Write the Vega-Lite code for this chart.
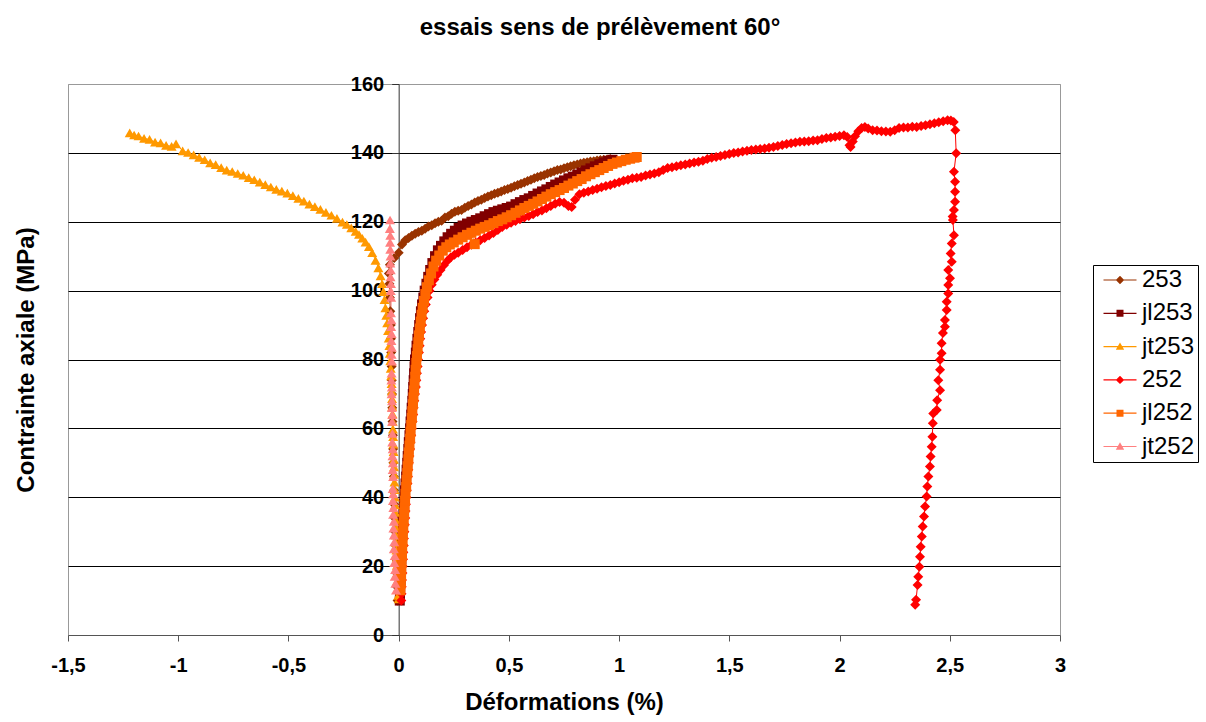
{
  "$schema": "https://vega.github.io/schema/vega-lite/v6.json",
  "width": 992,
  "height": 551,
  "autosize": "none",
  "padding": {"left": 68, "top": 84, "right": 146, "bottom": 87},
  "background": "white",
  "title": {"text": "essais sens de prélèvement 60°", "font": "Liberation Sans", "fontSize": 24, "fontWeight": "bold", "color": "black", "anchor": "middle", "frame": "group", "dx": 36, "baseline": "alphabetic", "offset": 15},
  "data": {"values": [
    {"s":"253","x":-0.005,"y":10},{"s":"253","x":-0.008,"y":14},{"s":"253","x":-0.01,"y":18},{"s":"253","x":-0.012,"y":22},{"s":"253","x":-0.014,"y":26},{"s":"253","x":-0.016,"y":30},{"s":"253","x":-0.018,"y":34},{"s":"253","x":-0.02,"y":38},{"s":"253","x":-0.021,"y":42},{"s":"253","x":-0.022,"y":46},{"s":"253","x":-0.024,"y":50},{"s":"253","x":-0.025,"y":54},{"s":"253","x":-0.026,"y":58},{"s":"253","x":-0.028,"y":62},{"s":"253","x":-0.029,"y":66},{"s":"253","x":-0.03,"y":70},{"s":"253","x":-0.031,"y":74},{"s":"253","x":-0.032,"y":78},{"s":"253","x":-0.034,"y":82},{"s":"253","x":-0.035,"y":86},{"s":"253","x":-0.036,"y":90},{"s":"253","x":-0.038,"y":94},{"s":"253","x":-0.04,"y":98},{"s":"253","x":-0.042,"y":102},{"s":"253","x":-0.044,"y":105},{"s":"253","x":-0.04,"y":107.5},{"s":"253","x":-0.02,"y":109.5},
    {"s":"253","x":0.0,"y":111.0},{"s":"253","x":0.015,"y":113.4},{"s":"253","x":0.03,"y":114.6},{"s":"253","x":0.045,"y":115.3},{"s":"253","x":0.06,"y":115.9},{"s":"253","x":0.075,"y":116.5},{"s":"253","x":0.09,"y":117.0},{"s":"253","x":0.105,"y":117.4},{"s":"253","x":0.12,"y":118.0},{"s":"253","x":0.135,"y":118.6},{"s":"253","x":0.15,"y":119.0},{"s":"253","x":0.165,"y":119.6},{"s":"253","x":0.18,"y":120.0},{"s":"253","x":0.195,"y":120.3},{"s":"253","x":0.21,"y":121.2},{"s":"253","x":0.225,"y":121.6},{"s":"253","x":0.24,"y":122.3},{"s":"253","x":0.255,"y":122.9},{"s":"253","x":0.27,"y":123.2},{"s":"253","x":0.285,"y":123.4},{"s":"253","x":0.3,"y":124.1},{"s":"253","x":0.315,"y":124.6},{"s":"253","x":0.33,"y":125.0},{"s":"253","x":0.345,"y":125.6},{"s":"253","x":0.36,"y":126.0},{"s":"253","x":0.375,"y":126.4},{"s":"253","x":0.39,"y":126.9},{"s":"253","x":0.405,"y":127.3},{"s":"253","x":0.42,"y":127.7},{"s":"253","x":0.435,"y":128.1},{"s":"253","x":0.45,"y":128.4},{"s":"253","x":0.465,"y":128.8},{"s":"253","x":0.48,"y":129.2},{"s":"253","x":0.495,"y":129.5},{"s":"253","x":0.51,"y":129.9},{"s":"253","x":0.525,"y":130.3},{"s":"253","x":0.54,"y":130.7},{"s":"253","x":0.555,"y":131.0},{"s":"253","x":0.57,"y":131.4},{"s":"253","x":0.585,"y":131.8},{"s":"253","x":0.6,"y":132.2},{"s":"253","x":0.615,"y":132.6},{"s":"253","x":0.63,"y":133.0},{"s":"253","x":0.645,"y":133.3},{"s":"253","x":0.66,"y":133.6},{"s":"253","x":0.675,"y":134.0},{"s":"253","x":0.69,"y":134.3},{"s":"253","x":0.705,"y":134.7},{"s":"253","x":0.72,"y":135.0},{"s":"253","x":0.735,"y":135.2},{"s":"253","x":0.75,"y":135.5},{"s":"253","x":0.765,"y":135.8},{"s":"253","x":0.78,"y":136.1},{"s":"253","x":0.795,"y":136.4},{"s":"253","x":0.81,"y":136.6},{"s":"253","x":0.825,"y":136.9},{"s":"253","x":0.84,"y":137.1},{"s":"253","x":0.855,"y":137.3},{"s":"253","x":0.87,"y":137.5},{"s":"253","x":0.885,"y":137.6},{"s":"253","x":0.9,"y":137.8},{"s":"253","x":0.915,"y":137.9},{"s":"253","x":0.93,"y":138.0},{"s":"253","x":0.945,"y":138.1},{"s":"253","x":0.96,"y":138.2},

    {"s":"jl253","x":0.005,"y":10},{"s":"jl253","x":0.006,"y":12},{"s":"jl253","x":0.007,"y":14},{"s":"jl253","x":0.009,"y":16},{"s":"jl253","x":0.01,"y":18},{"s":"jl253","x":0.011,"y":20},{"s":"jl253","x":0.012,"y":22},{"s":"jl253","x":0.013,"y":24},{"s":"jl253","x":0.014,"y":26},{"s":"jl253","x":0.015,"y":28},{"s":"jl253","x":0.017,"y":30},{"s":"jl253","x":0.018,"y":32},{"s":"jl253","x":0.02,"y":34},{"s":"jl253","x":0.022,"y":36},{"s":"jl253","x":0.025,"y":38},{"s":"jl253","x":0.027,"y":40},{"s":"jl253","x":0.029,"y":42},{"s":"jl253","x":0.031,"y":44},{"s":"jl253","x":0.034,"y":46},{"s":"jl253","x":0.036,"y":48},{"s":"jl253","x":0.039,"y":50},{"s":"jl253","x":0.041,"y":52},{"s":"jl253","x":0.044,"y":54},{"s":"jl253","x":0.046,"y":56},{"s":"jl253","x":0.049,"y":58},{"s":"jl253","x":0.052,"y":60},{"s":"jl253","x":0.054,"y":62},{"s":"jl253","x":0.057,"y":64},{"s":"jl253","x":0.059,"y":66},{"s":"jl253","x":0.062,"y":68},{"s":"jl253","x":0.064,"y":70},{"s":"jl253","x":0.066,"y":72},{"s":"jl253","x":0.068,"y":74},{"s":"jl253","x":0.07,"y":76},{"s":"jl253","x":0.072,"y":78},{"s":"jl253","x":0.074,"y":80},{"s":"jl253","x":0.078,"y":82},{"s":"jl253","x":0.081,"y":84},{"s":"jl253","x":0.085,"y":86},{"s":"jl253","x":0.089,"y":88},{"s":"jl253","x":0.093,"y":90},{"s":"jl253","x":0.097,"y":92},{"s":"jl253","x":0.101,"y":94},{"s":"jl253","x":0.106,"y":96},{"s":"jl253","x":0.112,"y":98},{"s":"jl253","x":0.118,"y":100},{"s":"jl253","x":0.126,"y":102},{"s":"jl253","x":0.134,"y":104},{"s":"jl253","x":0.143,"y":106},{"s":"jl253","x":0.153,"y":108},{"s":"jl253","x":0.165,"y":110},{"s":"jl253","x":0.178,"y":111.7},{"s":"jl253","x":0.192,"y":113},{"s":"jl253","x":0.207,"y":114.3},{"s":"jl253","x":0.222,"y":115.5},{"s":"jl253","x":0.238,"y":116.5},{"s":"jl253","x":0.255,"y":117.4},{"s":"jl253","x":0.272,"y":118.2},{"s":"jl253","x":0.29,"y":118.9},{"s":"jl253","x":0.31,"y":119.5},{"s":"jl253","x":0.33,"y":120.0},{"s":"jl253","x":0.35,"y":120.5},{"s":"jl253","x":0.37,"y":121.0},{"s":"jl253","x":0.39,"y":121.6},{"s":"jl253","x":0.41,"y":122.2},{"s":"jl253","x":0.43,"y":122.8},{"s":"jl253","x":0.45,"y":123.2},{"s":"jl253","x":0.47,"y":123.6},{"s":"jl253","x":0.49,"y":124.0},{"s":"jl253","x":0.51,"y":124.4},{"s":"jl253","x":0.53,"y":125.1},{"s":"jl253","x":0.55,"y":125.7},{"s":"jl253","x":0.57,"y":126.3},{"s":"jl253","x":0.59,"y":126.8},{"s":"jl253","x":0.61,"y":127.5},{"s":"jl253","x":0.63,"y":128.2},{"s":"jl253","x":0.65,"y":128.8},{"s":"jl253","x":0.67,"y":129.4},{"s":"jl253","x":0.69,"y":130.1},{"s":"jl253","x":0.71,"y":130.8},{"s":"jl253","x":0.73,"y":131.4},{"s":"jl253","x":0.75,"y":132.0},{"s":"jl253","x":0.77,"y":132.6},{"s":"jl253","x":0.79,"y":133.1},{"s":"jl253","x":0.81,"y":133.7},{"s":"jl253","x":0.83,"y":134.3},{"s":"jl253","x":0.85,"y":134.9},{"s":"jl253","x":0.87,"y":135.5},{"s":"jl253","x":0.89,"y":136.1},{"s":"jl253","x":0.91,"y":136.7},{"s":"jl253","x":0.93,"y":137.2},{"s":"jl253","x":0.95,"y":137.7},{"s":"jl253","x":0.97,"y":138.0},

    {"s":"jt253","x":0.0,"y":10.5},{"s":"jt253","x":-0.002,"y":11.5},{"s":"jt253","x":-0.004,"y":13.6},{"s":"jt253","x":-0.006,"y":15.8},{"s":"jt253","x":-0.007,"y":18.0},{"s":"jt253","x":-0.008,"y":20.2},{"s":"jt253","x":-0.009,"y":22.4},{"s":"jt253","x":-0.01,"y":24.6},{"s":"jt253","x":-0.011,"y":26.8},{"s":"jt253","x":-0.012,"y":29.0},{"s":"jt253","x":-0.013,"y":31.2},{"s":"jt253","x":-0.014,"y":33.4},{"s":"jt253","x":-0.015,"y":35.6},{"s":"jt253","x":-0.016,"y":37.8},{"s":"jt253","x":-0.017,"y":40.0},{"s":"jt253","x":-0.018,"y":42.2},{"s":"jt253","x":-0.019,"y":44.4},{"s":"jt253","x":-0.02,"y":46.6},{"s":"jt253","x":-0.021,"y":48.8},{"s":"jt253","x":-0.022,"y":51.0},{"s":"jt253","x":-0.023,"y":53.2},{"s":"jt253","x":-0.024,"y":55.4},{"s":"jt253","x":-0.025,"y":57.6},{"s":"jt253","x":-0.026,"y":59.8},{"s":"jt253","x":-0.027,"y":62.0},{"s":"jt253","x":-0.028,"y":64.2},{"s":"jt253","x":-0.029,"y":66.4},{"s":"jt253","x":-0.03,"y":68.6},{"s":"jt253","x":-0.031,"y":70.8},{"s":"jt253","x":-0.032,"y":73.0},{"s":"jt253","x":-0.034,"y":75.2},{"s":"jt253","x":-0.036,"y":77.4},{"s":"jt253","x":-0.038,"y":79.6},{"s":"jt253","x":-0.04,"y":81.8},{"s":"jt253","x":-0.042,"y":84.0},{"s":"jt253","x":-0.045,"y":86.2},{"s":"jt253","x":-0.048,"y":88.4},{"s":"jt253","x":-0.052,"y":90.6},{"s":"jt253","x":-0.056,"y":92.8},{"s":"jt253","x":-0.06,"y":95.0},{"s":"jt253","x":-0.064,"y":97.4},{"s":"jt253","x":-0.069,"y":99.7},{"s":"jt253","x":-0.075,"y":102.0},{"s":"jt253","x":-0.082,"y":104.3},{"s":"jt253","x":-0.092,"y":106.6},{"s":"jt253","x":-0.105,"y":108.8},{"s":"jt253","x":-0.12,"y":111.0},{"s":"jt253","x":-0.135,"y":112.8},{"s":"jt253","x":-0.15,"y":114.1},{"s":"jt253","x":-0.165,"y":115.2},{"s":"jt253","x":-0.18,"y":116.3},{"s":"jt253","x":-0.195,"y":117.2},{"s":"jt253","x":-0.215,"y":118.2},{"s":"jt253","x":-0.235,"y":119.2},{"s":"jt253","x":-0.255,"y":119.9},{"s":"jt253","x":-0.28,"y":121.0},{"s":"jt253","x":-0.305,"y":121.9},{"s":"jt253","x":-0.33,"y":122.7},{"s":"jt253","x":-0.355,"y":123.6},{"s":"jt253","x":-0.38,"y":124.4},{"s":"jt253","x":-0.405,"y":125.1},{"s":"jt253","x":-0.43,"y":126.0},{"s":"jt253","x":-0.455,"y":126.8},{"s":"jt253","x":-0.48,"y":127.6},{"s":"jt253","x":-0.505,"y":128.3},{"s":"jt253","x":-0.53,"y":128.9},{"s":"jt253","x":-0.555,"y":129.4},{"s":"jt253","x":-0.58,"y":130.1},{"s":"jt253","x":-0.605,"y":130.8},{"s":"jt253","x":-0.63,"y":131.5},{"s":"jt253","x":-0.655,"y":132.2},{"s":"jt253","x":-0.68,"y":132.8},{"s":"jt253","x":-0.705,"y":133.5},{"s":"jt253","x":-0.73,"y":134.0},{"s":"jt253","x":-0.755,"y":134.6},{"s":"jt253","x":-0.78,"y":135.0},{"s":"jt253","x":-0.805,"y":135.7},{"s":"jt253","x":-0.83,"y":136.6},{"s":"jt253","x":-0.855,"y":137.1},{"s":"jt253","x":-0.88,"y":138.0},{"s":"jt253","x":-0.905,"y":138.7},{"s":"jt253","x":-0.93,"y":139.4},{"s":"jt253","x":-0.955,"y":140.1},{"s":"jt253","x":-0.98,"y":140.6},{"s":"jt253","x":-1.01,"y":142.6},{"s":"jt253","x":-1.03,"y":141.9},{"s":"jt253","x":-1.055,"y":142.2},{"s":"jt253","x":-1.08,"y":142.9},{"s":"jt253","x":-1.105,"y":143.1},{"s":"jt253","x":-1.13,"y":143.9},{"s":"jt253","x":-1.155,"y":144.2},{"s":"jt253","x":-1.18,"y":144.9},{"s":"jt253","x":-1.2,"y":145.2},{"s":"jt253","x":-1.22,"y":145.8},

    {"s":"252","x":0.012,"y":10},{"s":"252","x":0.013,"y":12},{"s":"252","x":0.014,"y":14},{"s":"252","x":0.015,"y":16},{"s":"252","x":0.017,"y":18},{"s":"252","x":0.018,"y":20},{"s":"252","x":0.02,"y":22},{"s":"252","x":0.021,"y":24},{"s":"252","x":0.023,"y":26},{"s":"252","x":0.024,"y":28},{"s":"252","x":0.026,"y":30},{"s":"252","x":0.028,"y":32},{"s":"252","x":0.03,"y":34},{"s":"252","x":0.031,"y":36},{"s":"252","x":0.033,"y":38},{"s":"252","x":0.035,"y":40},{"s":"252","x":0.037,"y":42},{"s":"252","x":0.04,"y":44},{"s":"252","x":0.042,"y":46},{"s":"252","x":0.044,"y":48},{"s":"252","x":0.046,"y":50},{"s":"252","x":0.049,"y":52},{"s":"252","x":0.052,"y":54},{"s":"252","x":0.054,"y":56},{"s":"252","x":0.057,"y":58},{"s":"252","x":0.06,"y":60},{"s":"252","x":0.063,"y":62},{"s":"252","x":0.066,"y":64},{"s":"252","x":0.068,"y":66},{"s":"252","x":0.071,"y":68},{"s":"252","x":0.074,"y":70},{"s":"252","x":0.078,"y":72},{"s":"252","x":0.08,"y":74},{"s":"252","x":0.083,"y":76},{"s":"252","x":0.086,"y":78},{"s":"252","x":0.088,"y":80},{"s":"252","x":0.092,"y":82},{"s":"252","x":0.095,"y":84},{"s":"252","x":0.098,"y":86},{"s":"252","x":0.102,"y":88},{"s":"252","x":0.106,"y":90},{"s":"252","x":0.111,"y":92},{"s":"252","x":0.116,"y":94},{"s":"252","x":0.123,"y":96},{"s":"252","x":0.131,"y":98},{"s":"252","x":0.14,"y":100},{"s":"252","x":0.15,"y":101.7},{"s":"252","x":0.162,"y":103.2},{"s":"252","x":0.175,"y":104.6},{"s":"252","x":0.19,"y":106},{"s":"252","x":0.205,"y":107.4},{"s":"252","x":0.22,"y":108.6},{"s":"252","x":0.236,"y":109.6},{"s":"252","x":0.253,"y":110.4},{"s":"252","x":0.27,"y":111.0},{"s":"252","x":0.29,"y":111.8},{"s":"252","x":0.31,"y":112.6},{"s":"252","x":0.33,"y":113.3},{"s":"252","x":0.35,"y":113.9},{"s":"252","x":0.37,"y":114.6},{"s":"252","x":0.39,"y":115.3},{"s":"252","x":0.41,"y":116.0},{"s":"252","x":0.43,"y":116.7},{"s":"252","x":0.45,"y":117.6},{"s":"252","x":0.47,"y":118.5},{"s":"252","x":0.49,"y":119.1},{"s":"252","x":0.51,"y":119.7},{"s":"252","x":0.53,"y":120.2},{"s":"252","x":0.55,"y":120.7},{"s":"252","x":0.57,"y":121.2},{"s":"252","x":0.59,"y":121.7},{"s":"252","x":0.61,"y":122.2},{"s":"252","x":0.63,"y":122.8},{"s":"252","x":0.65,"y":123.3},{"s":"252","x":0.67,"y":123.9},{"s":"252","x":0.69,"y":124.6},{"s":"252","x":0.71,"y":125.2},{"s":"252","x":0.73,"y":125.7},{"s":"252","x":0.75,"y":125.5},{"s":"252","x":0.77,"y":124.6},{"s":"252","x":0.785,"y":124.3},{"s":"252","x":0.8,"y":126.4},{"s":"252","x":0.82,"y":128.0},{"s":"252","x":0.84,"y":128.4},{"s":"252","x":0.86,"y":128.8},{"s":"252","x":0.88,"y":129.2},{"s":"252","x":0.9,"y":129.6},{"s":"252","x":0.92,"y":130.0},{"s":"252","x":0.94,"y":130.4},{"s":"252","x":0.96,"y":130.7},{"s":"252","x":0.98,"y":131.1},{"s":"252","x":1.0,"y":131.5},{"s":"252","x":1.02,"y":131.9},{"s":"252","x":1.04,"y":132.2},{"s":"252","x":1.06,"y":132.6},{"s":"252","x":1.08,"y":132.8},{"s":"252","x":1.1,"y":133.0},{"s":"252","x":1.12,"y":133.4},{"s":"252","x":1.14,"y":133.7},{"s":"252","x":1.16,"y":134.0},{"s":"252","x":1.18,"y":134.4},{"s":"252","x":1.2,"y":135.0},{"s":"252","x":1.22,"y":135.6},{"s":"252","x":1.24,"y":135.8},{"s":"252","x":1.26,"y":136.1},{"s":"252","x":1.28,"y":136.4},{"s":"252","x":1.3,"y":136.6},{"s":"252","x":1.32,"y":136.9},{"s":"252","x":1.34,"y":137.2},{"s":"252","x":1.36,"y":137.4},{"s":"252","x":1.38,"y":137.7},{"s":"252","x":1.4,"y":138.2},{"s":"252","x":1.42,"y":138.6},{"s":"252","x":1.44,"y":138.8},{"s":"252","x":1.46,"y":139.1},{"s":"252","x":1.48,"y":139.4},{"s":"252","x":1.5,"y":139.7},{"s":"252","x":1.52,"y":140.0},{"s":"252","x":1.54,"y":140.1},{"s":"252","x":1.56,"y":140.4},{"s":"252","x":1.58,"y":140.6},{"s":"252","x":1.6,"y":140.8},{"s":"252","x":1.62,"y":141.0},{"s":"252","x":1.64,"y":141.1},{"s":"252","x":1.66,"y":141.3},{"s":"252","x":1.68,"y":141.5},{"s":"252","x":1.7,"y":141.7},{"s":"252","x":1.72,"y":142.0},{"s":"252","x":1.74,"y":142.3},{"s":"252","x":1.76,"y":142.6},{"s":"252","x":1.78,"y":142.8},{"s":"252","x":1.8,"y":143.0},{"s":"252","x":1.82,"y":143.2},{"s":"252","x":1.84,"y":143.3},{"s":"252","x":1.86,"y":143.4},{"s":"252","x":1.88,"y":143.6},{"s":"252","x":1.9,"y":143.7},{"s":"252","x":1.92,"y":144.0},{"s":"252","x":1.94,"y":144.3},{"s":"252","x":1.96,"y":144.5},{"s":"252","x":1.98,"y":144.7},{"s":"252","x":2.0,"y":144.9},{"s":"252","x":2.02,"y":145.1},{"s":"252","x":2.035,"y":144.6},{"s":"252","x":2.045,"y":142.2},{"s":"252","x":2.05,"y":141.7},{"s":"252","x":2.06,"y":143.3},{"s":"252","x":2.07,"y":144.8},{"s":"252","x":2.085,"y":146.3},{"s":"252","x":2.1,"y":147.2},{"s":"252","x":2.115,"y":147.5},{"s":"252","x":2.13,"y":147.1},{"s":"252","x":2.15,"y":146.6},{"s":"252","x":2.17,"y":146.5},{"s":"252","x":2.19,"y":146.3},{"s":"252","x":2.21,"y":146.2},{"s":"252","x":2.23,"y":146.1},{"s":"252","x":2.25,"y":146.6},{"s":"252","x":2.27,"y":147.2},{"s":"252","x":2.29,"y":147.4},{"s":"252","x":2.31,"y":147.4},{"s":"252","x":2.33,"y":147.6},{"s":"252","x":2.35,"y":147.5},{"s":"252","x":2.37,"y":147.8},{"s":"252","x":2.39,"y":148.0},{"s":"252","x":2.41,"y":148.3},{"s":"252","x":2.43,"y":148.6},{"s":"252","x":2.45,"y":148.9},{"s":"252","x":2.47,"y":149.2},{"s":"252","x":2.49,"y":149.5},{"s":"252","x":2.505,"y":149.4},{"s":"252","x":2.518,"y":149.0},{"s":"252","x":2.525,"y":146.6},
    {"s":"252","x":2.529,"y":139.9},{"s":"252","x":2.519,"y":134.5},{"s":"252","x":2.524,"y":131.6},{"s":"252","x":2.524,"y":128.7},{"s":"252","x":2.524,"y":125.8},{"s":"252","x":2.519,"y":123.4},{"s":"252","x":2.513,"y":121.5},{"s":"252","x":2.514,"y":120.5},{"s":"252","x":2.519,"y":116.1},{"s":"252","x":2.509,"y":113.7},{"s":"252","x":2.504,"y":110.8},{"s":"252","x":2.509,"y":108.4},{"s":"252","x":2.493,"y":106.0},{"s":"252","x":2.501,"y":103.6},{"s":"252","x":2.493,"y":101.6},{"s":"252","x":2.493,"y":99.2},{"s":"252","x":2.486,"y":96.8},{"s":"252","x":2.486,"y":94.4},{"s":"252","x":2.478,"y":91.5},{"s":"252","x":2.478,"y":89.5},{"s":"252","x":2.469,"y":87.7},{"s":"252","x":2.463,"y":84.7},{"s":"252","x":2.463,"y":81.8},{"s":"252","x":2.456,"y":79.9},{"s":"252","x":2.456,"y":77.0},{"s":"252","x":2.448,"y":74.0},{"s":"252","x":2.456,"y":71.1},{"s":"252","x":2.443,"y":68.2},{"s":"252","x":2.441,"y":65.3},{"s":"252","x":2.425,"y":64.3},{"s":"252","x":2.423,"y":61.5},{"s":"252","x":2.421,"y":57.6},{"s":"252","x":2.418,"y":54.7},{"s":"252","x":2.413,"y":51.8},{"s":"252","x":2.41,"y":48.9},{"s":"252","x":2.403,"y":46.0},{"s":"252","x":2.398,"y":43.1},{"s":"252","x":2.395,"y":40.2},{"s":"252","x":2.388,"y":37.3},{"s":"252","x":2.383,"y":34.4},{"s":"252","x":2.377,"y":31.5},{"s":"252","x":2.373,"y":28.6},{"s":"252","x":2.368,"y":25.6},{"s":"252","x":2.365,"y":22.7},{"s":"252","x":2.362,"y":19.8},{"s":"252","x":2.357,"y":16.9},{"s":"252","x":2.354,"y":14.5},{"s":"252","x":2.347,"y":10.2},{"s":"252","x":2.343,"y":8.8},

    {"s":"jl252","x":0.008,"y":13},{"s":"jl252","x":0.01,"y":15},{"s":"jl252","x":0.011,"y":17},{"s":"jl252","x":0.012,"y":19},{"s":"jl252","x":0.013,"y":21},{"s":"jl252","x":0.015,"y":23},{"s":"jl252","x":0.016,"y":25},{"s":"jl252","x":0.018,"y":27},{"s":"jl252","x":0.019,"y":29},{"s":"jl252","x":0.021,"y":31},{"s":"jl252","x":0.023,"y":33},{"s":"jl252","x":0.025,"y":35},{"s":"jl252","x":0.027,"y":37},{"s":"jl252","x":0.029,"y":39},{"s":"jl252","x":0.031,"y":41},{"s":"jl252","x":0.034,"y":43},{"s":"jl252","x":0.036,"y":45},{"s":"jl252","x":0.039,"y":47},{"s":"jl252","x":0.041,"y":49},{"s":"jl252","x":0.044,"y":51},{"s":"jl252","x":0.046,"y":53},{"s":"jl252","x":0.049,"y":55},{"s":"jl252","x":0.052,"y":57},{"s":"jl252","x":0.054,"y":59},{"s":"jl252","x":0.057,"y":61},{"s":"jl252","x":0.06,"y":63},{"s":"jl252","x":0.062,"y":65},{"s":"jl252","x":0.065,"y":67},{"s":"jl252","x":0.067,"y":69},{"s":"jl252","x":0.07,"y":71},{"s":"jl252","x":0.072,"y":73},{"s":"jl252","x":0.075,"y":75},{"s":"jl252","x":0.077,"y":77},{"s":"jl252","x":0.08,"y":79},{"s":"jl252","x":0.083,"y":81},{"s":"jl252","x":0.086,"y":83},{"s":"jl252","x":0.089,"y":85},{"s":"jl252","x":0.092,"y":87},{"s":"jl252","x":0.096,"y":89},{"s":"jl252","x":0.1,"y":91},{"s":"jl252","x":0.104,"y":93},{"s":"jl252","x":0.109,"y":95},{"s":"jl252","x":0.115,"y":97},{"s":"jl252","x":0.121,"y":99},{"s":"jl252","x":0.128,"y":101},{"s":"jl252","x":0.137,"y":103},{"s":"jl252","x":0.147,"y":105},{"s":"jl252","x":0.158,"y":107},{"s":"jl252","x":0.17,"y":108.7},{"s":"jl252","x":0.184,"y":110.2},{"s":"jl252","x":0.2,"y":111.6},{"s":"jl252","x":0.216,"y":112.6},{"s":"jl252","x":0.232,"y":113.4},{"s":"jl252","x":0.25,"y":114.0},{"s":"jl252","x":0.27,"y":114.8},{"s":"jl252","x":0.29,"y":115.5},{"s":"jl252","x":0.31,"y":116.2},{"s":"jl252","x":0.33,"y":116.8},{"s":"jl252","x":0.345,"y":113.5},{"s":"jl252","x":0.35,"y":117.4},{"s":"jl252","x":0.37,"y":118.0},{"s":"jl252","x":0.39,"y":118.5},{"s":"jl252","x":0.41,"y":119.0},{"s":"jl252","x":0.43,"y":119.6},{"s":"jl252","x":0.45,"y":120.2},{"s":"jl252","x":0.47,"y":120.7},{"s":"jl252","x":0.49,"y":121.3},{"s":"jl252","x":0.51,"y":121.9},{"s":"jl252","x":0.53,"y":122.6},{"s":"jl252","x":0.55,"y":123.3},{"s":"jl252","x":0.57,"y":124.0},{"s":"jl252","x":0.59,"y":124.6},{"s":"jl252","x":0.61,"y":125.2},{"s":"jl252","x":0.63,"y":125.9},{"s":"jl252","x":0.65,"y":126.6},{"s":"jl252","x":0.67,"y":127.3},{"s":"jl252","x":0.69,"y":128.0},{"s":"jl252","x":0.71,"y":128.6},{"s":"jl252","x":0.73,"y":129.2},{"s":"jl252","x":0.75,"y":129.8},{"s":"jl252","x":0.77,"y":130.5},{"s":"jl252","x":0.79,"y":131.1},{"s":"jl252","x":0.81,"y":131.8},{"s":"jl252","x":0.83,"y":132.4},{"s":"jl252","x":0.85,"y":133.2},{"s":"jl252","x":0.87,"y":133.8},{"s":"jl252","x":0.89,"y":134.4},{"s":"jl252","x":0.91,"y":135.0},{"s":"jl252","x":0.93,"y":135.6},{"s":"jl252","x":0.95,"y":136.2},{"s":"jl252","x":0.97,"y":136.8},{"s":"jl252","x":0.99,"y":137.2},{"s":"jl252","x":1.01,"y":137.6},{"s":"jl252","x":1.03,"y":138.0},{"s":"jl252","x":1.05,"y":138.3},{"s":"jl252","x":1.07,"y":138.6},{"s":"jl252","x":1.08,"y":138.8},

    {"s":"jt252","x":-0.012,"y":13},{"s":"jt252","x":-0.015,"y":15},{"s":"jt252","x":-0.018,"y":17},{"s":"jt252","x":-0.016,"y":19},{"s":"jt252","x":-0.02,"y":21},{"s":"jt252","x":-0.018,"y":23},{"s":"jt252","x":-0.022,"y":25},{"s":"jt252","x":-0.02,"y":27},{"s":"jt252","x":-0.022,"y":29},{"s":"jt252","x":-0.024,"y":31},{"s":"jt252","x":-0.022,"y":33},{"s":"jt252","x":-0.025,"y":35},{"s":"jt252","x":-0.024,"y":37},{"s":"jt252","x":-0.026,"y":39},{"s":"jt252","x":-0.025,"y":41},{"s":"jt252","x":-0.027,"y":42.5},{"s":"jt252","x":-0.025,"y":46},{"s":"jt252","x":-0.027,"y":48},{"s":"jt252","x":-0.026,"y":50},{"s":"jt252","x":-0.028,"y":52},{"s":"jt252","x":-0.027,"y":54},{"s":"jt252","x":-0.029,"y":56},{"s":"jt252","x":-0.028,"y":58.5},{"s":"jt252","x":-0.03,"y":62},{"s":"jt252","x":-0.029,"y":64},{"s":"jt252","x":-0.031,"y":66},{"s":"jt252","x":-0.03,"y":68},{"s":"jt252","x":-0.032,"y":70},{"s":"jt252","x":-0.031,"y":72},{"s":"jt252","x":-0.033,"y":74},{"s":"jt252","x":-0.032,"y":76},{"s":"jt252","x":-0.03,"y":79.5},{"s":"jt252","x":-0.032,"y":81.5},{"s":"jt252","x":-0.031,"y":83.5},{"s":"jt252","x":-0.033,"y":85.5},{"s":"jt252","x":-0.032,"y":87.5},{"s":"jt252","x":-0.034,"y":89.5},{"s":"jt252","x":-0.033,"y":91.5},{"s":"jt252","x":-0.035,"y":93.5},{"s":"jt252","x":-0.034,"y":98},{"s":"jt252","x":-0.036,"y":100},{"s":"jt252","x":-0.035,"y":102},{"s":"jt252","x":-0.037,"y":104},{"s":"jt252","x":-0.036,"y":106},{"s":"jt252","x":-0.038,"y":108},{"s":"jt252","x":-0.037,"y":110},{"s":"jt252","x":-0.038,"y":112},{"s":"jt252","x":-0.039,"y":114},{"s":"jt252","x":-0.038,"y":116},{"s":"jt252","x":-0.04,"y":118},{"s":"jt252","x":-0.039,"y":120.5}
  ]},
  "layer": [
    {
      "mark": {"type": "line", "strokeWidth": 1},
      "encoding": {
        "x": {"field": "x", "type": "quantitative", "scale": {"domain": [-1.5, 3], "nice": false, "zero": false},
              "axis": {"orient": "bottom", "values": [-1.5, -1, -0.5, 0, 0.5, 1, 1.5, 2, 2.5, 3], "labelExpr": "replace(toString(datum.value), '.', ',')", "labelFlush": false, "labelOverlap": false, "grid": false, "domainColor": "#555", "tickColor": "#555", "tickSize": 6, "labelPadding": 14, "labelFont": "Liberation Sans", "labelFontSize": 20, "labelFontWeight": "bold", "labelColor": "black", "title": "Déformations (%)", "titleFont": "Liberation Sans", "titleFontSize": 24, "titleFontWeight": "bold", "titleColor": "black", "titlePadding": 15}},
        "y": {"field": "y", "type": "quantitative", "scale": {"domain": [0, 160], "nice": false, "zero": false},
              "axis": {"orient": "left", "values": [20, 40, 60, 80, 100, 120, 140, 160], "grid": true, "gridColor": {"condition": {"test": "datum.value >= 160", "value": "#999999"}, "value": "#000000"}, "gridWidth": 1, "domain": false, "ticks": false, "labels": false, "minExtent": 0, "maxExtent": 0, "title": "Contrainte axiale (MPa)", "titleFont": "Liberation Sans", "titleFontSize": 24, "titleFontWeight": "bold", "titleColor": "black", "titlePadding": 30}},
        "color": {"field": "s", "type": "nominal", "scale": {"domain": ["253", "jl253", "jt253", "252", "jl252", "jt252"], "range": ["#993300", "#800000", "#FF9900", "#FF0000", "#FF6600", "#FF8080"]}, "legend": null},
        "order": {"value": null}
      }
    },
    {
      "mark": {"type": "point", "filled": true, "opacity": 1, "size": 100},
      "encoding": {
        "x": {"field": "x", "type": "quantitative", "scale": {"domain": [-1.5, 3], "nice": false, "zero": false},
              "axis": {"orient": "bottom", "values": [-1.5, -1, -0.5, 0, 0.5, 1, 1.5, 2, 2.5, 3], "labelExpr": "replace(toString(datum.value), '.', ',')", "labelFlush": false, "labelOverlap": false, "grid": false, "domainColor": "#555", "tickColor": "#555", "tickSize": 6, "labelPadding": 14, "labelFont": "Liberation Sans", "labelFontSize": 20, "labelFontWeight": "bold", "labelColor": "black", "title": "Déformations (%)", "titleFont": "Liberation Sans", "titleFontSize": 24, "titleFontWeight": "bold", "titleColor": "black", "titlePadding": 15}},
        "y": {"field": "y", "type": "quantitative", "scale": {"domain": [0, 160], "nice": false, "zero": false},
              "axis": {"orient": "left", "offset": -330.67, "values": [0, 20, 40, 60, 80, 100, 120, 140, 160], "grid": false, "domain": true, "domainColor": "#333", "tickColor": "#333", "tickSize": 7, "labelPadding": 8, "labelFont": "Liberation Sans", "labelFontSize": 20, "labelFontWeight": "bold", "labelColor": "black", "labelOverlap": false, "labelFlush": false, "title": null}},
        "color": {"field": "s", "type": "nominal", "scale": {"domain": ["253", "jl253", "jt253", "252", "jl252", "jt252"], "range": ["#993300", "#800000", "#FF9900", "#FF0000", "#FF6600", "#FF8080"]}, "legend": null},
        "shape": {"field": "s", "type": "nominal", "scale": {"domain": ["253", "jl253", "jt253", "252", "jl252", "jt252"], "range": ["diamond", "square", "triangle-up", "diamond", "square", "triangle-up"]}, "legend": null}
      }
    },
    {
      "transform": [{"filter": "datum.s == 'aucune'"}],
      "mark": {"type": "point", "filled": true, "opacity": 1, "size": 100},
      "encoding": {
        "x": {"field": "x", "type": "quantitative", "scale": {"domain": [-1.5, 3], "nice": false, "zero": false},
              "axis": {"orient": "bottom", "values": [-1.5, -1, -0.5, 0, 0.5, 1, 1.5, 2, 2.5, 3], "labelExpr": "replace(toString(datum.value), '.', ',')", "labelFlush": false, "labelOverlap": false, "grid": false, "domainColor": "#555", "tickColor": "#555", "tickSize": 6, "labelPadding": 14, "labelFont": "Liberation Sans", "labelFontSize": 20, "labelFontWeight": "bold", "labelColor": "black", "title": "Déformations (%)", "titleFont": "Liberation Sans", "titleFontSize": 24, "titleFontWeight": "bold", "titleColor": "black", "titlePadding": 15}},
        "y": {"field": "y", "type": "quantitative", "scale": {"domain": [0, 160], "nice": false, "zero": false}, "axis": null},
        "color": {"field": "s", "type": "nominal", "scale": {"domain": ["253", "jl253", "jt253", "252", "jl252", "jt252"], "range": ["#993300", "#800000", "#FF9900", "#FF0000", "#FF6600", "#FF8080"]},
                  "legend": {"orient": "none", "legendX": 1025, "legendY": 181, "title": null, "padding": 3, "strokeColor": "black", "fillColor": "white", "symbolSize": 400, "symbolOffset": 12, "labelOffset": 10, "rowPadding": 9.3, "symbolStrokeWidth": 0, "labelFont": "Liberation Sans", "labelFontSize": 24, "labelColor": "black", "labelLimit": 200}},
        "shape": {"field": "s", "type": "nominal", "scale": {"domain": ["253", "jl253", "jt253", "252", "jl252", "jt252"], "range": ["M-1.65,-0.06H1.65V0.06H-1.65ZM0,-0.42L0.42,0L0,0.42L-0.42,0Z", "M-1.65,-0.06H1.65V0.06H-1.65ZM-0.35,-0.35H0.35V0.35H-0.35Z", "M-1.65,-0.06H1.65V0.06H-1.65ZM0,-0.42L0.42,0.32H-0.42Z", "M-1.65,-0.06H1.65V0.06H-1.65ZM0,-0.42L0.42,0L0,0.42L-0.42,0Z", "M-1.65,-0.06H1.65V0.06H-1.65ZM-0.35,-0.35H0.35V0.35H-0.35Z", "M-1.65,-0.06H1.65V0.06H-1.65ZM0,-0.42L0.42,0.32H-0.42Z"]},
                  "legend": {"orient": "none", "legendX": 1025, "legendY": 181, "title": null, "padding": 3, "strokeColor": "black", "fillColor": "white", "symbolSize": 400, "symbolOffset": 12, "labelOffset": 10, "rowPadding": 9.3, "symbolStrokeWidth": 0, "labelFont": "Liberation Sans", "labelFontSize": 24, "labelColor": "black", "labelLimit": 200}}
      }
    }
  ],
  "resolve": {"axis": {"y": "independent"}, "scale": {"shape": "independent"}, "legend": {"color": "independent", "shape": "independent"}},
  "config": {
    "view": {"stroke": "#999999", "strokeWidth": 1},
    "font": "Liberation Sans"
  }
}
